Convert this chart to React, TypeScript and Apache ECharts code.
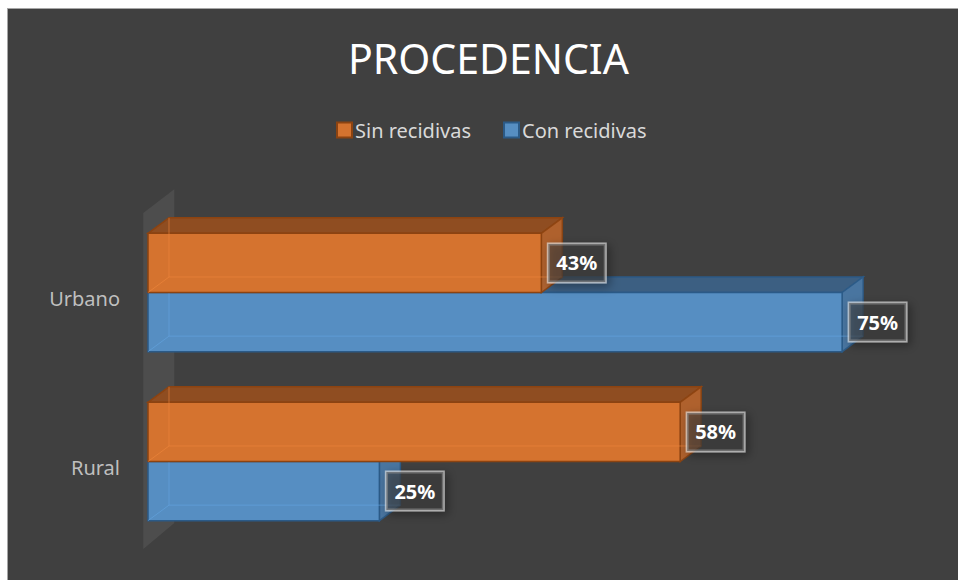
import React, { useEffect, useRef } from 'react';
import * as echarts from 'echarts';

const titleText = 'PROCEDENCIA';
const categories = ['Urbano', 'Rural'];
const seriesNames = ['Sin recidivas', 'Con recidivas'];
const sinRecidivas = [42.5, 57.5];
const conRecidivas = [75, 25];

const FONT = '"Noto Sans", "Open Sans", sans-serif';

const palettes = [
  { front: '#d5732f', top: '#8f4d21', side: '#b9642b', border: '#8c4311', inner: 'rgba(240,135,60,0.6)' },
  { front: '#568ec2', top: '#3c5f82', side: '#4a7aa8', border: '#2b5a87', inner: 'rgba(100,165,225,0.6)' },
];

const DX = 21;
const DY = 15.5;

function makeRenderItem(si: number) {
  const pal = palettes[si];
  return (params: any, api: any) => {
    const val = api.value(0);
    const cat = api.value(1);
    const start = api.coord([0, cat]);
    const end = api.coord([val, cat]);
    const band = api.size([0, 1])[1];
    const barW = band * 0.35;
    const top = start[1] - barW + si * barW;
    const bot = top + barW;
    const x0 = start[0];
    const x1 = end[0];
    const lw = 1.5;
    return {
      type: 'group',
      children: [
        {
          type: 'polygon',
          shape: { points: [[x0, top], [x0 + DX, top - DY], [x1 + DX, top - DY], [x1, top]] },
          style: { fill: pal.top, stroke: pal.border, lineWidth: lw },
        },
        {
          type: 'polygon',
          shape: { points: [[x1, top], [x1 + DX, top - DY], [x1 + DX, bot - DY], [x1, bot]] },
          style: { fill: pal.side, stroke: pal.border, lineWidth: lw, opacity: 0.92 },
        },
        {
          type: 'rect',
          shape: { x: x0, y: top, width: x1 - x0, height: barW },
          style: { fill: pal.front, stroke: pal.border, lineWidth: lw },
        },
        {
          type: 'polyline',
          shape: { points: [[x0, bot], [x0 + DX, bot - DY], [x1 + DX, bot - DY]] },
          style: { fill: null, stroke: pal.inner, lineWidth: 1 },
        },
        {
          type: 'line',
          shape: { x1: x0 + DX, y1: top - DY, x2: x0 + DX, y2: bot - DY },
          style: { stroke: pal.inner, lineWidth: 1 },
        },
        {
          type: 'text',
          x: x1 + 7,
          y: (top + bot) / 2,
          z2: 20,
          style: {
            text: Math.round(val) + '%',
            fill: '#ffffff',
            font: `bold 20px ${FONT}`,
            align: 'left',
            verticalAlign: 'middle',
            lineHeight: 24,
            backgroundColor: 'rgba(64,64,64,0.55)',
            borderColor: 'rgba(225,225,225,0.65)',
            borderWidth: 1.5,
            padding: [7, 8, 7, 8],
            shadowBlur: 10,
            shadowColor: 'rgba(0,0,0,0.55)',
            shadowOffsetX: 3,
            shadowOffsetY: 3,
          },
        },
      ],
    };
  };
}

export default function App() {
  const ref = useRef<HTMLDivElement>(null);
  useEffect(() => {
    document.body.style.margin = '0';
    document.body.style.overflow = 'hidden';
    const chart = echarts.init(ref.current!, null, { renderer: 'svg' });
    const values = [sinRecidivas, conRecidivas];
    chart.setOption({
      animation: false,
      backgroundColor: '#404040',
      title: {
        text: titleText,
        left: 335,
        top: 23,
        textStyle: { color: '#ffffff', fontSize: 41, fontWeight: 'normal', fontFamily: FONT },
      },
      legend: {
        left: 323,
        top: 106,
        itemWidth: 15,
        itemHeight: 15,
        itemGap: 32,
        icon: 'rect',
        textStyle: { color: '#d9d9d9', fontSize: 20, fontFamily: FONT, padding: [0, 0, 0, -2] },
        data: seriesNames.map((n, i) => ({
          name: n,
          itemStyle: { color: palettes[i].front, borderColor: palettes[i].border, borderWidth: 2 },
        })),
      },
      grid: { left: 140, right: 69.6, top: 199, height: 338 },
      xAxis: { type: 'value', min: 0, max: 80, show: false, splitLine: { show: false } },
      yAxis: {
        type: 'category',
        inverse: true,
        data: categories,
        axisLine: { show: false },
        axisTick: { show: false },
        splitLine: { show: false },
        axisLabel: {
          margin: 28,
          formatter: '{a|{value}}',
          rich: { a: { color: '#bfbfbf', fontSize: 20, fontFamily: FONT, padding: [11, 0, 0, 0] } },
        },
      },
      graphic: [
        {
          type: 'polygon',
          z: 1,
          silent: true,
          shape: { points: [[135.3, 204], [166.3, 180.3], [166.3, 514], [135.3, 540]] },
          style: { fill: 'rgba(255,255,255,0.07)' },
        },
      ],
      series: seriesNames.map((name, si) => ({
        type: 'custom',
        name,
        z: si === 0 ? 3 : 2,
        itemStyle: { color: palettes[si].front, borderColor: palettes[si].border },
        encode: { x: 0, y: 1 },
        renderItem: makeRenderItem(si),
        data: values[si].map((v, ci) => [v, ci]),
      })),
    });
    return () => chart.dispose();
  }, []);
  return (
    <div
      style={{
        position: 'absolute',
        left: 7,
        top: 8,
        width: 951,
        height: 572,
        boxSizing: 'border-box',
        borderTop: '1px solid #a6a6a6',
        borderLeft: '1px solid #a6a6a6',
      }}
    >
      <div ref={ref} style={{ width: 950, height: 571 }} />
    </div>
  );
}
